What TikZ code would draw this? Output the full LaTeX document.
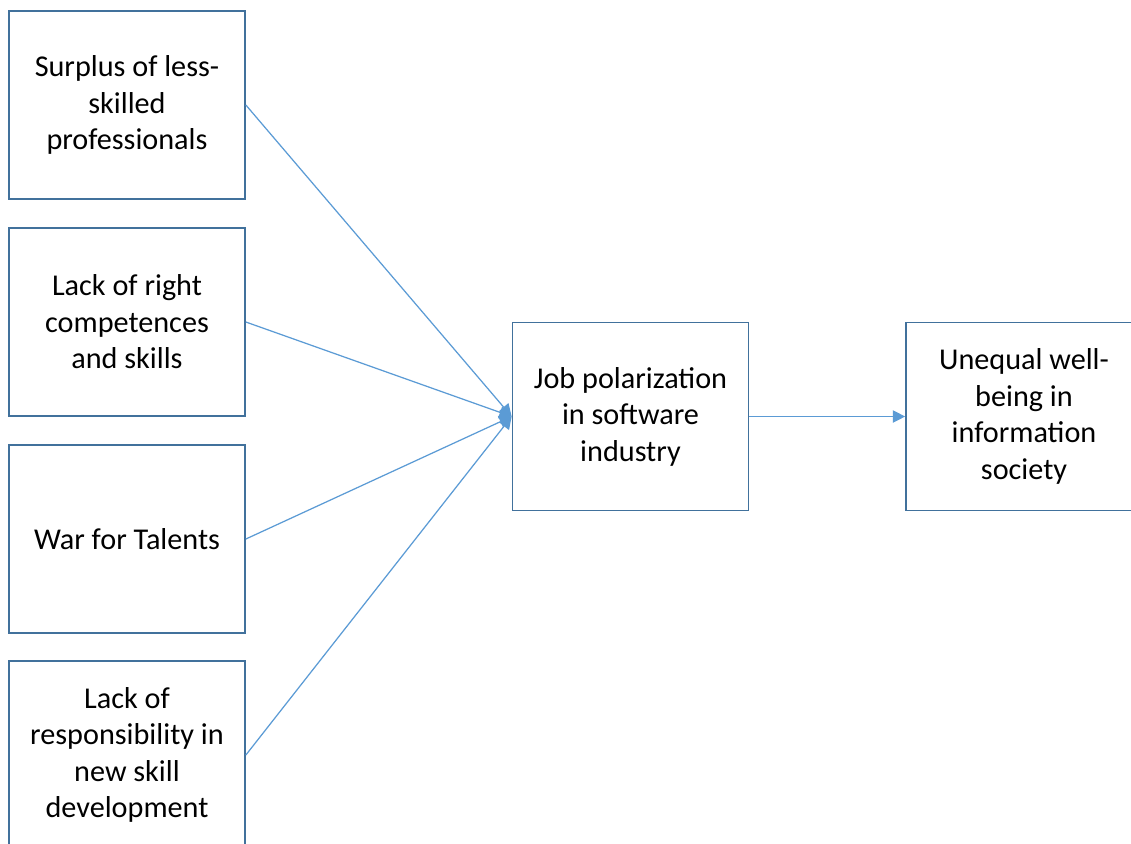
\documentclass[tikz,border=0pt]{standalone}
\usepackage{fontspec}
\setmainfont{Carlito}
\usetikzlibrary{arrows.meta}
\definecolor{boxline}{RGB}{65,113,156}
\definecolor{arrowline}{RGB}{91,155,213}
\tikzset{
  factor/.style={rectangle, draw=boxline, line width=1pt, minimum width=4.72cm, minimum height=3.76cm, align=center, font=\fontsize{17.2}{20.8}\selectfont, inner sep=0pt},
  link/.style={draw=arrowline, line width=0.7pt, -{Triangle[length=7pt, width=7pt]}}
}
\begin{document}
\begin{tikzpicture}[x=0.02cm, y=-0.02cm]
      \useasboundingbox (0,0) rectangle (1131,843);
      \fill[white] (0,0) rectangle (1131,843);
      \begin{scope}
      \clip (0,0) rectangle (1131,843);
      \node[factor] (1) at (127,105) {Surplus of less-\\skilled\\professionals};
      \node[factor] (2) at (127,322) {Lack of right\\competences\\and skills};
      \node[factor] (3) at (127,539) {War for Talents};
      \node[factor] (4) at (127,755) {Lack of\\responsibility in\\new skill\\development};
      \node[factor] (5) at (630.5,416.5) {Job polarization\\in software\\industry};
      \node[factor] (6) at (1024,416.5) {Unequal well-\\being in\\information\\society};
      \end{scope}
      \foreach \source/\dest in {1/5, 2/5, 3/5, 4/5, 5/6}
        \path[link] (\source.east) -- (\dest.west);
\end{tikzpicture}
\end{document}
